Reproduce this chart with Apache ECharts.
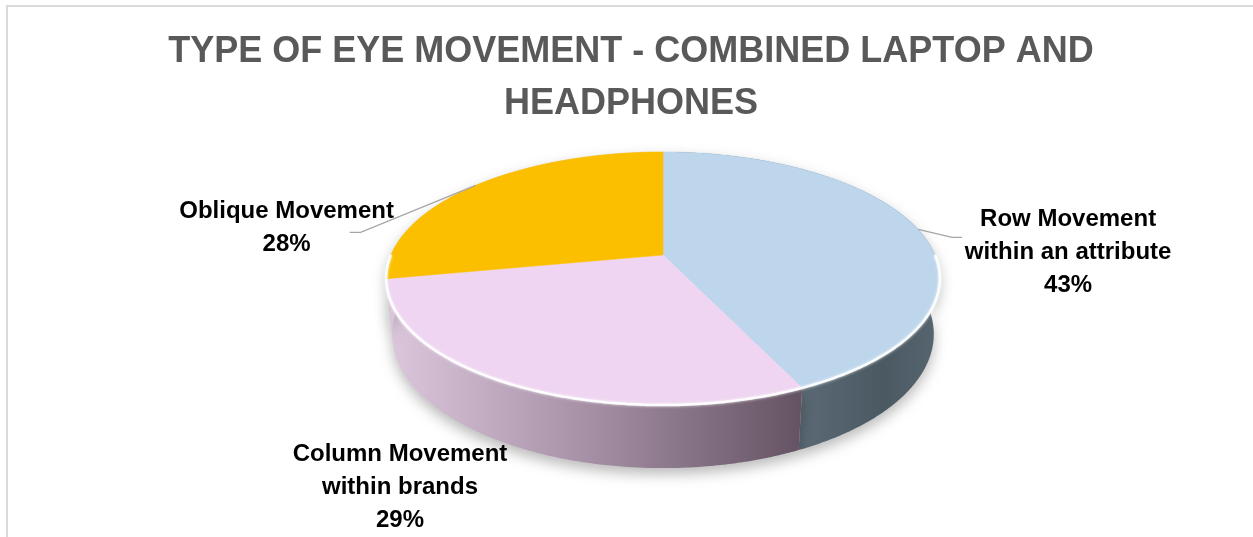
<!DOCTYPE html>
<html><head><meta charset="utf-8">
<script src="https://cdn.jsdelivr.net/npm/echarts@6/dist/echarts.min.js"></script>
<style>html,body{margin:0;padding:0;background:#fff}#c{width:1253px;height:537px}</style>
</head><body><div id="c"></div>
<script>
// ---- data ----
const titleText = 'TYPE OF EYE MOVEMENT - COMBINED LAPTOP AND\nHEADPHONES';
const categories = ['Row Movement\nwithin an attribute', 'Column Movement\nwithin brands', 'Oblique Movement'];
const values = [43, 29, 28];
const topColors = ['#BDD6EC', '#EFD5F1', '#FBBF00'];

// ---- layout / styling (not data) ----
const VIEW = { cx: 663, cy: 255, s: 272, D: 4.81, tilt: 26.7 * Math.PI / 180, t: 0.23 };
const labelOffsets = [[150, 23], [-115, 102], [-189, 43]];
const leaderOffsets = [[[34, 8], [44, 8]], null, [[-115, 47], [-126, 47]]];
const FONT = '"Liberation Sans", Arial, sans-serif';

const total = values.reduce((a, b) => a + b, 0);
const starts = [];
{ let acc = 0; values.forEach(v => { starts.push(acc / total * Math.PI * 2); acc += v; }); }

function proj(theta, y, r) {
  r = r === undefined ? 1 : r;
  const X = r * Math.sin(theta), Z = r * Math.cos(theta);
  const sa = Math.sin(VIEW.tilt), ca = Math.cos(VIEW.tilt);
  const Yv = y * ca + Z * sa, Zv = -y * sa + Z * ca;
  const f = VIEW.D / (VIEW.D + Zv);
  return [VIEW.cx + VIEW.s * X * f, VIEW.cy - VIEW.s * Yv * f];
}
function arc(a0, a1, y) {
  const pts = [];
  const n = Math.max(2, Math.ceil((a1 - a0) / (0.5 * Math.PI / 180)));
  for (let k = 0; k <= n; k++) pts.push(proj(a0 + (a1 - a0) * k / n, y));
  return pts;
}
const G = (x0, x1, stops) => new echarts.graphic.LinearGradient(x0, 0, x1, 0, stops.map((c, i) => ({ offset: c[0], color: c[1] })), true);
const wallFills = [
  G(798, 940, [[0, '#5b6a75'], [0.6, '#4b5963'], [1, '#56666f']]),
  G(388, 800, [[0, '#dcc7dc'], [0.45, '#aa94aa'], [1, '#655363']]),
  G(388, 480, [[0, '#dac5da'], [1, '#d2bdd2']])
];

function renderWall(params, api) {
  const i = params.dataIndex;
  const a0 = starts[i], a1 = a0 + api.value(0) / total * Math.PI * 2;
  const pts = arc(a0, a1, 0).concat(arc(a0, a1, -VIEW.t).reverse());
  return {
    type: 'polygon', shape: { points: pts },
    style: { fill: wallFills[i], shadowBlur: 14, shadowColor: 'rgba(0,0,0,0.28)', shadowOffsetY: 6 }
  };
}

function renderTop(params, api) {
  const i = params.dataIndex;
  const v = api.value(0);
  const a0 = starts[i], a1 = a0 + v / total * Math.PI * 2;
  const children = [];
  children.push({
    type: 'polygon', shape: { points: [proj(0, 0, 0)].concat(arc(a0, a1, 0)) },
    style: { fill: topColors[i], stroke: topColors[i], lineWidth: 0.5 }
  });
  // front rim highlight
  const h0 = Math.max(a0, Math.PI * 0.5), h1 = Math.min(a1, Math.PI * 1.5);
  if (h1 > h0) {
    children.push({
      type: 'polyline', shape: { points: arc(h0, h1, 0) },
      style: { stroke: 'rgba(255,255,255,0.9)', lineWidth: 2.5, fill: null, shadowBlur: 3, shadowColor: 'rgba(255,255,255,0.9)' }
    });
  }
  // label
  const mid = (a0 + a1) / 2;
  const m = proj(mid, 0);
  const off = labelOffsets[i];
  children.push({
    type: 'text', x: m[0] + off[0], y: m[1] + off[1],
    style: {
      text: categories[i] + '\n' + Math.round(v / total * 100) + '%',
      fill: '#000', font: 'bold 24px ' + FONT, align: 'center', verticalAlign: 'middle', lineHeight: 33
    }
  });
  const lo = leaderOffsets[i];
  if (lo) {
    children.push({
      type: 'polyline', shape: { points: [m].concat(lo.map(p => [m[0] + p[0], m[1] + p[1]])) },
      style: { stroke: '#a6a6a6', lineWidth: 1.3, fill: null }
    });
  }
  return { type: 'group', children };
}

const chart = echarts.init(document.getElementById('c'));
chart.setOption({
  animation: false,
  backgroundColor: '#fff',
  title: {
    text: titleText, left: 631, top: 26, textAlign: 'center', padding: 0,
    textStyle: { fontSize: 36, fontWeight: 'bold', color: '#595959', lineHeight: 52, fontFamily: FONT }
  },
  graphic: [{
    type: 'rect', shape: { x: 7, y: 6, width: 1300, height: 600 }, silent: true,
    style: { fill: null, stroke: '#d9d9d9', lineWidth: 2 }, z: 0
  }],
  series: [
    { type: 'custom', coordinateSystem: 'none', z: 2, silent: true, renderItem: renderWall, data: values },
    { type: 'custom', coordinateSystem: 'none', z: 3, silent: true, renderItem: renderTop, data: values }
  ]
});
</script></body></html>
